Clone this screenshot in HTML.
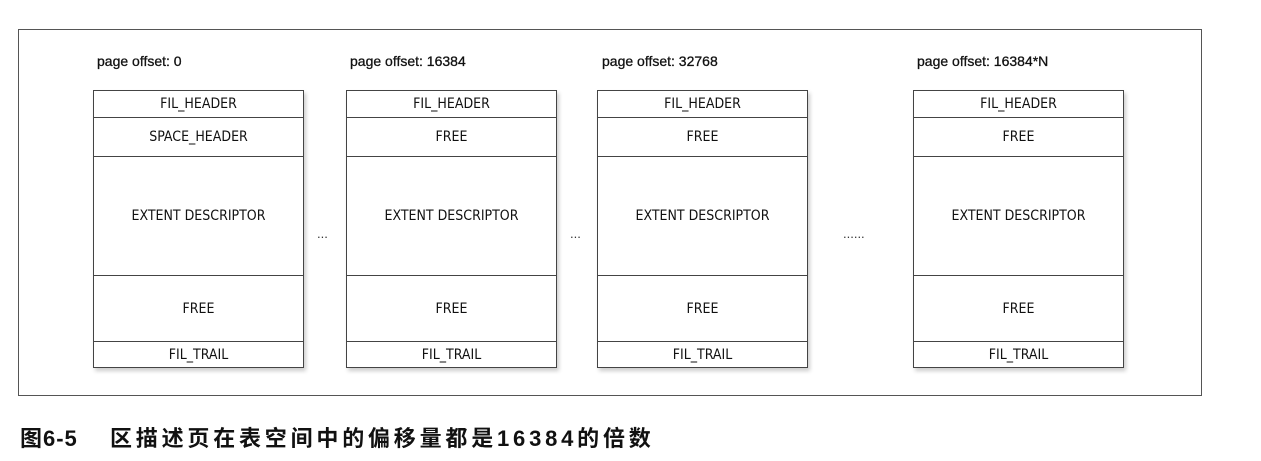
<!DOCTYPE html>
<html><head><meta charset="utf-8"><style>
body{margin:0;width:1261px;height:461px;background:#fff;position:relative;font-family:"Liberation Sans","DejaVu Sans",sans-serif;overflow:hidden}
.frame{position:absolute;left:18px;top:29px;width:1184px;height:367px;border:1px solid #555;box-sizing:border-box}
.lbl{position:absolute;top:53px;font-size:14px;color:#111;-webkit-text-stroke:0.3px #111}
.box{position:absolute;top:90px;width:211px;height:278px;border:1px solid #444;box-sizing:border-box;box-shadow:2px 3px 4px rgba(0,0,0,.2);background:#fff}
.box div{border-bottom:1px solid #444;box-sizing:border-box;display:flex;align-items:center;justify-content:center;font-size:14px;color:#111;font-family:"DejaVu Sans Condensed","DejaVu Sans",sans-serif}
.box div:last-child{border-bottom:none}
.dots{position:absolute;top:226px;font-size:13px;color:#333}
.cap{position:absolute;left:20px;top:421px;font-size:22px;color:#111;font-family:"Liberation Sans","Noto Sans CJK SC",sans-serif;font-weight:bold;letter-spacing:1px}
.cap span{position:absolute;left:90px;white-space:nowrap;letter-spacing:3.8px}
</style></head><body>
<div class="frame"></div>
<div class="lbl" style="left:97px">page offset: 0</div>
<div class="lbl" style="left:350px">page offset: 16384</div>
<div class="lbl" style="left:602px">page offset: 32768</div>
<div class="lbl" style="left:917px">page offset: 16384*N</div>
<div class="box" style="left:93px"><div style="height:27px">FIL_HEADER</div><div style="height:39px">SPACE_HEADER</div><div style="height:119px">EXTENT DESCRIPTOR</div><div style="height:66px">FREE</div><div style="height:25px">FIL_TRAIL</div></div>
<div class="box" style="left:346px"><div style="height:27px">FIL_HEADER</div><div style="height:39px">FREE</div><div style="height:119px">EXTENT DESCRIPTOR</div><div style="height:66px">FREE</div><div style="height:25px">FIL_TRAIL</div></div>
<div class="box" style="left:597px"><div style="height:27px">FIL_HEADER</div><div style="height:39px">FREE</div><div style="height:119px">EXTENT DESCRIPTOR</div><div style="height:66px">FREE</div><div style="height:25px">FIL_TRAIL</div></div>
<div class="box" style="left:913px"><div style="height:27px">FIL_HEADER</div><div style="height:39px">FREE</div><div style="height:119px">EXTENT DESCRIPTOR</div><div style="height:66px">FREE</div><div style="height:25px">FIL_TRAIL</div></div>
<div class="dots" style="left:317px">...</div>
<div class="dots" style="left:570px">...</div>
<div class="dots" style="left:843px">......</div>
<div class="cap">图6-5<span>区描述页在表空间中的偏移量都是16384的倍数</span></div>
</body></html>
